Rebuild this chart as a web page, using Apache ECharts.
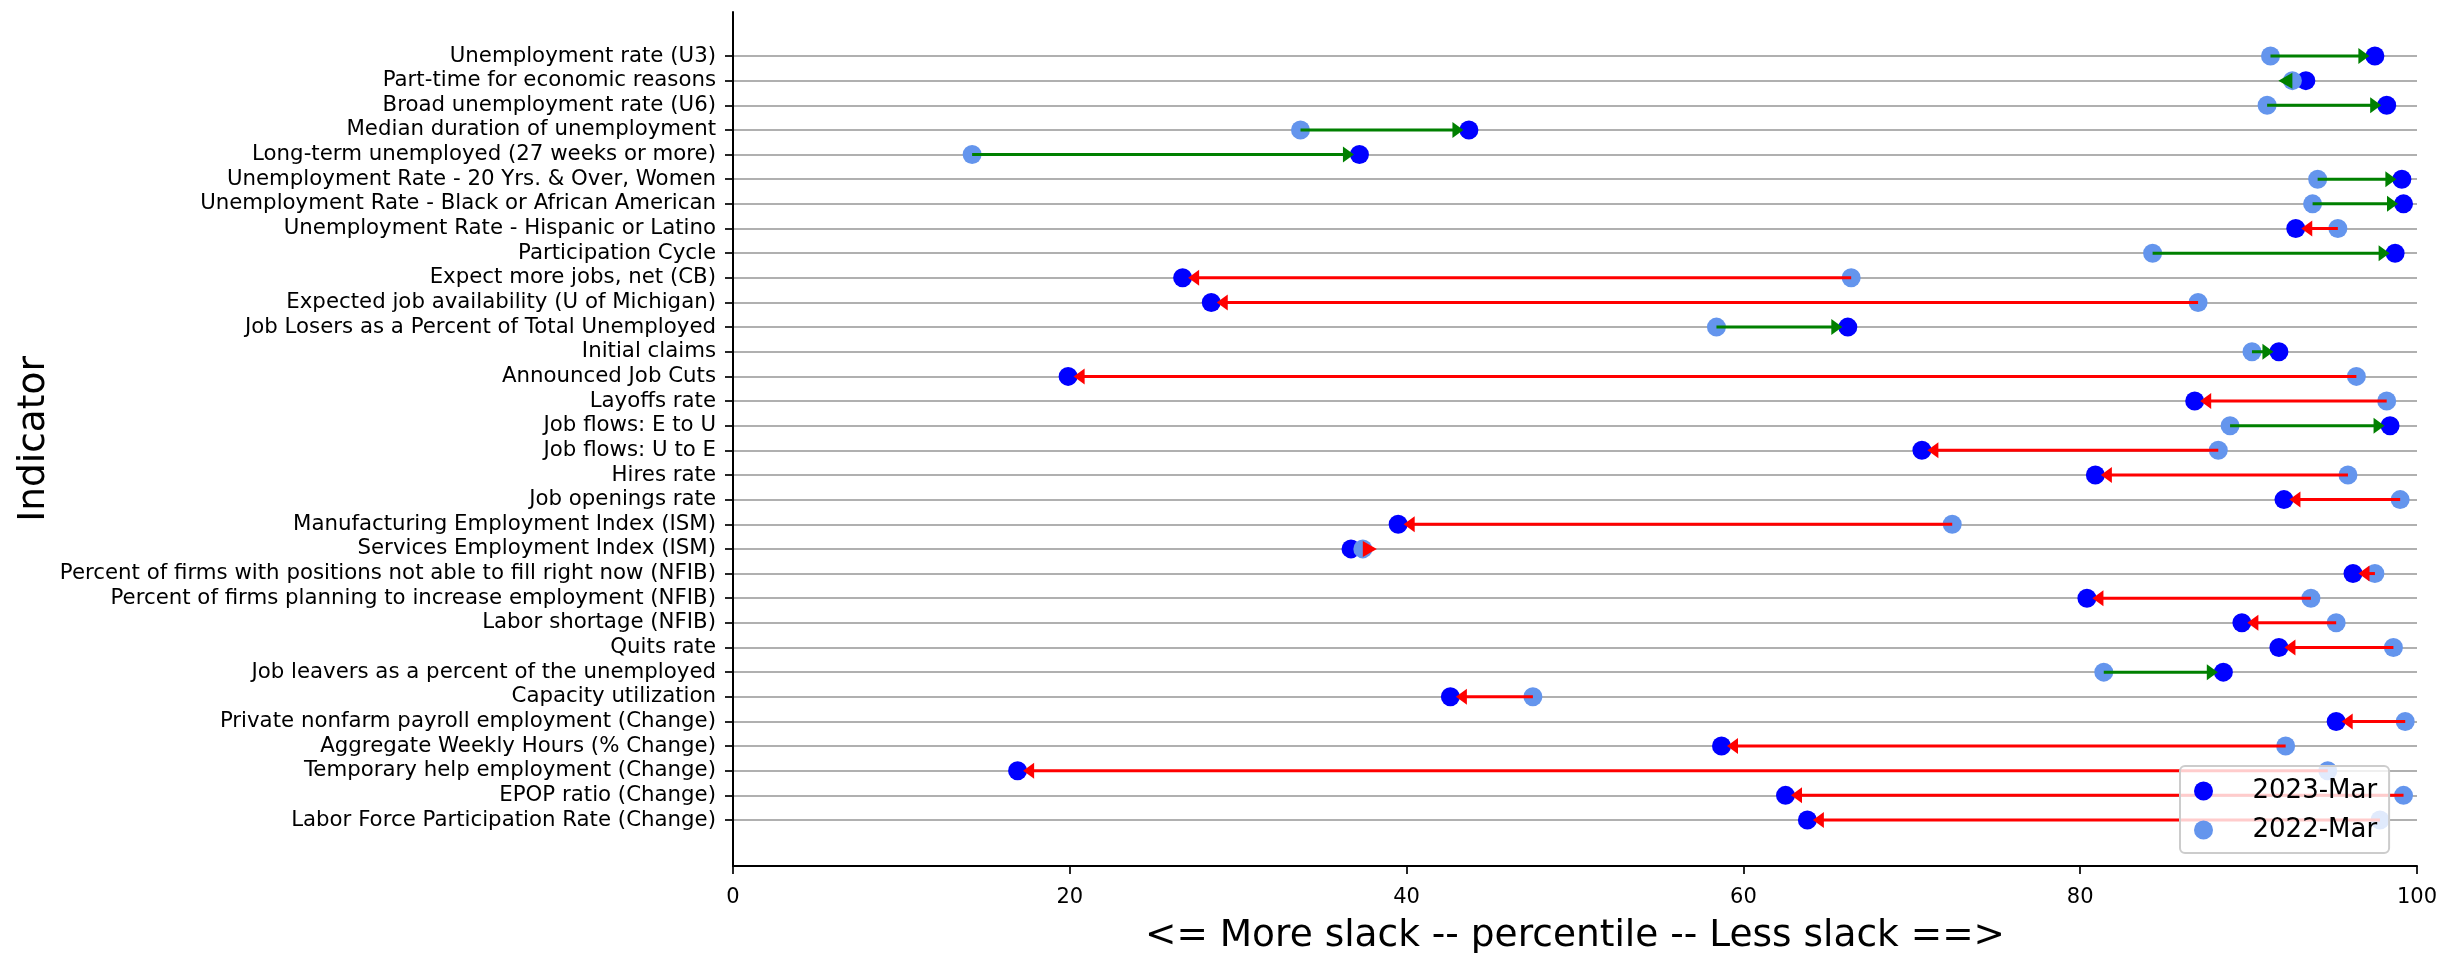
<!DOCTYPE html>
<html><head><meta charset="utf-8">
<script src="https://cdn.jsdelivr.net/npm/echarts@6/dist/echarts.min.js"></script>
<style>html,body{margin:0;padding:0;background:#fff}#c{width:2441px;height:953px}</style>
</head><body><div id="c"></div>
<script>
const categories = [
  "Unemployment rate (U3)",
  "Part-time for economic reasons",
  "Broad unemployment rate (U6)",
  "Median duration of unemployment",
  "Long-term unemployed (27 weeks or more)",
  "Unemployment Rate - 20 Yrs. & Over, Women",
  "Unemployment Rate - Black or African American",
  "Unemployment Rate - Hispanic or Latino",
  "Participation Cycle",
  "Expect more jobs, net (CB)",
  "Expected job availability (U of Michigan)",
  "Job Losers as a Percent of Total Unemployed",
  "Initial claims",
  "Announced Job Cuts",
  "Layoffs rate",
  "Job flows: E to U",
  "Job flows: U to E",
  "Hires rate",
  "Job openings rate",
  "Manufacturing Employment Index (ISM)",
  "Services Employment Index (ISM)",
  "Percent of firms with positions not able to fill right now (NFIB)",
  "Percent of firms planning to increase employment (NFIB)",
  "Labor shortage (NFIB)",
  "Quits rate",
  "Job leavers as a percent of the unemployed",
  "Capacity utilization",
  "Private nonfarm payroll employment (Change)",
  "Aggregate Weekly Hours (% Change)",
  "Temporary help employment (Change)",
  "EPOP ratio (Change)",
  "Labor Force Participation Rate (Change)"
];
const values2022 = [91.3, 92.6, 91.1, 33.7, 14.2, 94.1, 93.8, 95.3, 84.3, 66.4, 87.0, 58.4, 90.2, 96.4, 98.2, 88.9, 88.2, 95.9, 99.0, 72.4, 37.4, 97.5, 93.7, 95.2, 98.6, 81.4, 47.5, 99.3, 92.2, 94.7, 99.2, 97.8];
const values2023 = [97.5, 93.4, 98.2, 43.7, 37.2, 99.1, 99.2, 92.8, 98.7, 26.7, 28.4, 66.2, 91.8, 19.9, 86.8, 98.4, 70.6, 80.9, 92.1, 39.5, 36.7, 96.2, 80.4, 89.6, 91.8, 88.5, 42.6, 95.2, 58.7, 16.9, 62.5, 63.8];
const xTicks = [0, 20, 40, 60, 80, 100];
const name2023 = "2023-Mar";
const name2022 = "2022-Mar";
const xAxisLabel = "<= More slack -- percentile -- Less slack ==>";
const yAxisLabel = "Indicator";

const FONT = "DejaVu Sans";
const chart = echarts.init(document.getElementById('c'), null, {renderer: 'canvas'});

const arrowData = categories.map((c, i) => [values2022[i], values2023[i], i]);

function renderArrow(params, api) {
  const v22 = api.value(0), v23 = api.value(1), idx = api.value(2);
  const a = api.coord([v22, idx]);
  const b = api.coord([v23, idx]);
  const color = v23 >= v22 ? '#008000' : '#ff0000';
  const dir = b[0] >= a[0] ? 1 : -1;
  const dist = Math.abs(b[0] - a[0]);
  const y = a[1];
  const HW = 8;
  const children = [];
  if (dist > 18) {
    const tip = b[0] - dir * 5.5;
    const base = tip - dir * 11;
    children.push({type: 'line', shape: {x1: a[0], y1: y, x2: base + dir * 1, y2: y},
      style: {stroke: color, lineWidth: 3}});
    children.push({type: 'polygon', shape: {points: [[tip, y], [base, y - HW], [base, y + HW]]},
      style: {fill: color}});
  } else {
    const base = a[0];
    const tip = a[0] - dir * 14;
    children.push({type: 'polygon', shape: {points: [[tip, y], [base, y - HW], [base, y + HW]]},
      style: {fill: color}});
  }
  return {type: 'group', children: children};
}

const option = {
  animation: false,
  backgroundColor: '#ffffff',
  textStyle: {fontFamily: FONT},
  grid: [
    {left: 733, right: 24, top: 12, bottom: 87, containLabel: false, outerBoundsMode: 'none'},
    {left: 733, right: 24, top: 56, bottom: 133, containLabel: false, outerBoundsMode: 'none'}
  ],
  xAxis: [
    {
      gridIndex: 0, type: 'value', min: xTicks[0], max: xTicks[xTicks.length - 1], interval: 20,
      position: 'bottom',
      axisLine: {show: true, onZero: false, lineStyle: {color: '#000', width: 2}},
      axisTick: {show: true, length: 8, lineStyle: {color: '#000', width: 1.7}},
      axisLabel: {show: true, margin: 21, fontSize: 21, color: '#000', fontFamily: FONT},
      splitLine: {show: false},
      name: xAxisLabel, nameLocation: 'middle', nameGap: 51,
      nameTextStyle: {fontSize: 37.5, color: '#000', fontFamily: FONT}
    },
    {
      gridIndex: 1, type: 'value', min: 0, max: 100, show: false,
      axisLine: {show: false}, axisTick: {show: false}, axisLabel: {show: false}, splitLine: {show: false}
    }
  ],
  yAxis: [
    {
      gridIndex: 0, type: 'value', min: 0, max: 1,
      axisLine: {show: true, onZero: false, lineStyle: {color: '#000', width: 2}},
      axisTick: {show: false}, axisLabel: {show: false}, splitLine: {show: false},
      name: yAxisLabel, nameLocation: 'middle', nameGap: 680,
      nameTextStyle: {fontSize: 37.5, color: '#000', fontFamily: FONT}
    },
    {
      gridIndex: 1, type: 'category', data: categories, inverse: true, boundaryGap: false,
      axisLine: {show: false},
      axisTick: {show: true, length: 8, interval: 0, lineStyle: {color: '#000', width: 1.7}},
      axisLabel: {show: true, interval: 0, margin: 17, fontSize: 21.3, color: '#000', fontFamily: FONT},
      splitLine: {show: true, interval: 0, lineStyle: {color: '#b0b0b0', width: 2.2}}
    }
  ],
  legend: {
    data: [name2023, name2022],
    orient: 'vertical',
    left: 2180, top: 766,
    padding: [12, 12, 10, 14],
    itemGap: 13,
    itemWidth: 48, itemHeight: 19,
    icon: 'circle',
    backgroundColor: 'rgba(255,255,255,0.8)',
    borderColor: '#cccccc', borderWidth: 2, borderRadius: 5,
    textStyle: {fontSize: 26, color: '#000', fontFamily: FONT, padding: [0, 0, 0, 20]},
    z: 20
  },
  series: [
    {
      name: name2023, type: 'scatter', xAxisIndex: 1, yAxisIndex: 1,
      symbol: 'circle', symbolSize: 19,
      itemStyle: {color: '#0000ff', opacity: 1},
      data: values2023.map((v, i) => [v, i]), z: 3
    },
    {
      name: name2022, type: 'scatter', xAxisIndex: 1, yAxisIndex: 1,
      symbol: 'circle', symbolSize: 19,
      itemStyle: {color: '#6495ed', opacity: 1},
      data: values2022.map((v, i) => [v, i]), z: 4
    },
    {
      name: 'change', type: 'custom', xAxisIndex: 1, yAxisIndex: 1,
      renderItem: renderArrow, data: arrowData, encode: {x: [0, 1], y: 2},
      clip: false, z: 5, silent: true
    }
  ]
};
chart.setOption(option);
</script>
</body></html>
